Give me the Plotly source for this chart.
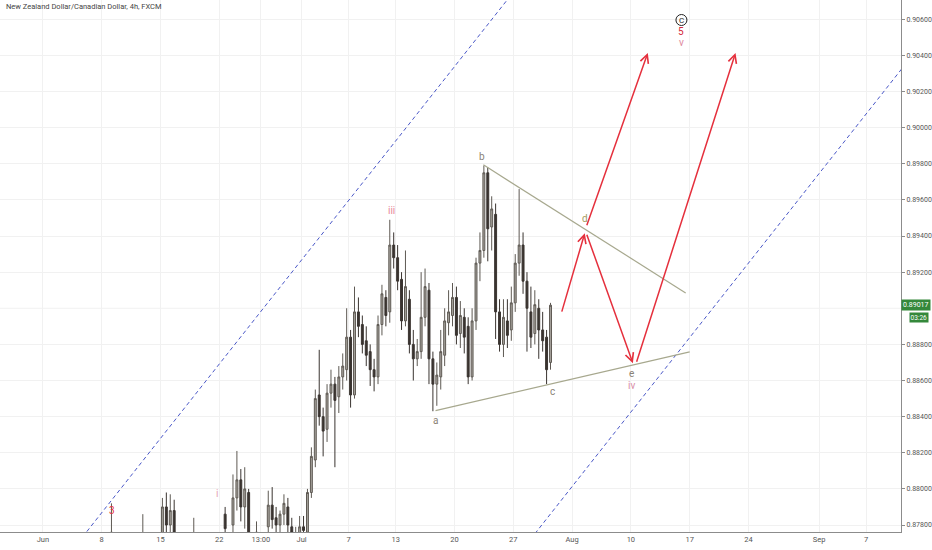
import numpy as np
import plotly.graph_objects as go

# ---------------- data (8h bars) ----------------
bar_time = [
    "2020-06-08 16", "2020-06-11 08",
    "2020-06-15 00", "2020-06-15 08", "2020-06-15 16", "2020-06-16 00",
    "2020-06-17 16",
    "2020-06-22 08", "2020-06-23 00", "2020-06-23 08", "2020-06-23 16",
    "2020-06-24 00", "2020-06-24 08", "2020-06-25 00",
    "2020-06-26 00", "2020-06-26 08", "2020-06-26 16",
    "2020-06-29 00", "2020-06-29 08", "2020-06-29 16",
    "2020-06-30 00", "2020-06-30 08", "2020-06-30 16",
    "2020-07-01 00", "2020-07-01 08", "2020-07-01 16",
    "2020-07-02 00", "2020-07-02 08", "2020-07-02 16",
    "2020-07-03 00", "2020-07-03 08", "2020-07-03 16",
    "2020-07-06 00", "2020-07-06 08", "2020-07-06 16",
    "2020-07-07 00", "2020-07-07 08", "2020-07-07 16",
    "2020-07-08 00", "2020-07-08 08", "2020-07-08 16",
    "2020-07-09 00", "2020-07-09 08", "2020-07-09 16",
    "2020-07-10 00", "2020-07-10 08", "2020-07-10 16",
    "2020-07-13 00", "2020-07-13 08", "2020-07-13 16",
    "2020-07-14 00", "2020-07-14 08", "2020-07-14 16",
    "2020-07-15 00", "2020-07-15 08", "2020-07-15 16",
    "2020-07-16 00", "2020-07-16 08", "2020-07-16 16",
    "2020-07-17 00", "2020-07-17 08", "2020-07-17 16",
    "2020-07-20 00", "2020-07-20 08", "2020-07-20 16",
    "2020-07-21 00", "2020-07-21 08", "2020-07-21 16",
    "2020-07-22 00", "2020-07-22 08", "2020-07-22 16",
    "2020-07-23 00", "2020-07-23 08", "2020-07-23 16",
    "2020-07-24 00", "2020-07-24 08", "2020-07-24 16",
    "2020-07-27 00", "2020-07-27 08", "2020-07-27 16",
    "2020-07-28 00", "2020-07-28 08", "2020-07-28 16",
    "2020-07-29 00", "2020-07-29 08", "2020-07-29 16",
    "2020-07-30 00",
]
opens = [
    0.8772, 0.8770,
    0.8770, 0.8790, 0.8780, 0.8788,
    0.8772,
    0.8786, 0.8780, 0.8795, 0.8805,
    0.8790, 0.8798, 0.8770,
    0.8779, 0.8791, 0.8784,
    0.8780, 0.8786, 0.8790,
    0.8779, 0.8772, 0.8774,
    0.8779, 0.8776, 0.8798,
    0.8816, 0.8852, 0.8840,
    0.8833, 0.8853, 0.8858,
    0.8851, 0.8862, 0.8866,
    0.8884, 0.8852, 0.8898,
    0.8891, 0.8882, 0.8876,
    0.8866, 0.8862, 0.8891,
    0.8906, 0.8898, 0.8935,
    0.8928, 0.8916, 0.8893,
    0.8905, 0.8880, 0.8872,
    0.8876, 0.8895, 0.8910,
    0.8872, 0.8858, 0.8862,
    0.8874, 0.8892, 0.8896,
    0.8906, 0.8886, 0.8895,
    0.8890, 0.8862, 0.8893,
    0.8925, 0.8932, 0.8975,
    0.8945, 0.8952, 0.8898,
    0.8880, 0.8893, 0.8888,
    0.8903, 0.8925, 0.8935,
    0.8915, 0.8898, 0.8886,
    0.8900, 0.8888, 0.8884,
    0.8870,
]
highs = [
    0.8792, 0.8786,
    0.8795, 0.8798, 0.8797, 0.8794,
    0.8784,
    0.8790, 0.8808, 0.8821, 0.8811,
    0.8812, 0.8800, 0.8782,
    0.8799, 0.8801, 0.8790,
    0.8788, 0.8797, 0.8795,
    0.8784, 0.8779, 0.8785,
    0.8785, 0.8800, 0.8823,
    0.8855, 0.8877, 0.8845,
    0.8858, 0.8866, 0.8862,
    0.8868, 0.8875, 0.8900,
    0.8888, 0.8912, 0.8906,
    0.8896, 0.8890, 0.8880,
    0.8872, 0.8896, 0.8913,
    0.8910, 0.8949, 0.8942,
    0.8935, 0.8920, 0.8932,
    0.8910, 0.8888, 0.8883,
    0.8920, 0.8922, 0.8914,
    0.8876, 0.8870, 0.8888,
    0.8900, 0.8910, 0.8914,
    0.8912, 0.8904, 0.8900,
    0.8895, 0.8900, 0.8928,
    0.8942, 0.8979, 0.8978,
    0.8962, 0.8958, 0.8905,
    0.8905, 0.8905, 0.8912,
    0.8930, 0.8966, 0.8942,
    0.8920, 0.8912, 0.8910,
    0.8905, 0.8898, 0.8888,
    0.8903,
]
lows = [
    0.8765, 0.8764,
    0.8766, 0.8772, 0.8774, 0.8768,
    0.8765,
    0.8772, 0.8775, 0.8788, 0.8782,
    0.8778, 0.8766, 0.8765,
    0.8774, 0.8778, 0.8774,
    0.8772, 0.8780, 0.8775,
    0.8770, 0.8766, 0.8768,
    0.8771, 0.8772, 0.8795,
    0.8812, 0.8835, 0.8818,
    0.8826, 0.8845, 0.8812,
    0.8842, 0.8855, 0.8860,
    0.8845, 0.8850, 0.8884,
    0.8875, 0.8868, 0.8857,
    0.8854, 0.8858, 0.8885,
    0.8890, 0.8892, 0.8922,
    0.8910, 0.8888, 0.8890,
    0.8875, 0.8860, 0.8868,
    0.8872, 0.8890, 0.8858,
    0.8843, 0.8846, 0.8855,
    0.8868, 0.8885, 0.8890,
    0.8880, 0.8878, 0.8875,
    0.8858, 0.8860, 0.8888,
    0.8915, 0.8928, 0.8926,
    0.8932, 0.8883, 0.8876,
    0.8873, 0.8878, 0.8882,
    0.8898, 0.8918, 0.8908,
    0.8876, 0.8878, 0.8880,
    0.8872, 0.8876, 0.8858,
    0.8866,
]
closes = [
    0.8776, 0.8774,
    0.8790, 0.8780, 0.8788, 0.8776,
    0.8775,
    0.8778, 0.8795, 0.8805, 0.8790,
    0.8800, 0.8772, 0.8776,
    0.8791, 0.8783, 0.8780,
    0.8786, 0.8792, 0.8780,
    0.8776, 0.8775, 0.8779,
    0.8777, 0.8798, 0.8818,
    0.8850, 0.8840, 0.8832,
    0.8853, 0.8858, 0.8849,
    0.8862, 0.8868, 0.8884,
    0.8852, 0.8898, 0.8890,
    0.8880, 0.8874, 0.8866,
    0.8862, 0.8891, 0.8908,
    0.8896, 0.8935, 0.8928,
    0.8915, 0.8893, 0.8912,
    0.8880, 0.8872, 0.8876,
    0.8895, 0.8912, 0.8872,
    0.8858, 0.8863, 0.8876,
    0.8893, 0.8898, 0.8906,
    0.8885, 0.8896, 0.8884,
    0.8862, 0.8893, 0.8925,
    0.8932, 0.8975, 0.8944,
    0.8955, 0.8898, 0.8880,
    0.8895, 0.8885, 0.8903,
    0.8925, 0.8935, 0.8915,
    0.8900, 0.8884, 0.8902,
    0.8888, 0.8882, 0.8866,
    0.89017,
]
last_price = "0.89017"
countdown = "03:26"

# price-axis labels shown (0.89000 is hidden behind the last-price tag, as in the original)
price_ticks = [0.878, 0.880, 0.882, 0.884, 0.886, 0.888,
               0.892, 0.894, 0.896, 0.898, 0.900, 0.902, 0.904, 0.906]
grid_prices = [0.890]

tick_time = ["2020-06-01", "2020-06-08", "2020-06-15", "2020-06-22", "2020-06-25 13",
             "2020-07-01", "2020-07-07", "2020-07-13", "2020-07-20", "2020-07-27",
             "2020-08-03", "2020-08-10", "2020-08-17", "2020-08-24", "2020-09-01", "2020-09-07"]
tick_text = ["Jun", "8", "15", "22", "13:00", "Jul", "7", "13", "20", "27",
             "Aug", "10", "17", "24", "Sep", "7"]

# drawings (x in trading days since 2020-06-01, y in price)
channel_upper = [(3.0, 0.87703), (41.0, 0.90832)]
channel_lower = [(40.0, 0.87600), (75.0, 0.90488)]
tri_upper = [(37.46, 0.89794), (54.66, 0.89085)]
tri_lower = [(33.39, 0.88433), (55.0, 0.88759)]
arrows = [  # (tail, tip)
    ((44.09, 0.88973), (46.08, 0.89416)),
    ((46.21, 0.89416), (50.17, 0.88696)),
    ((50.45, 0.88696), (58.90, 0.90414)),
    ((46.21, 0.89452), (51.44, 0.90414)),
]
wave_labels = [  # (text, x, y, colour)
    ("b", 37.37, 0.89838, "#8a8276"),
    ("a", 33.39, 0.88377, "#8a8276"),
    ("c", 43.31, 0.88538, "#8a8276"),
    ("d", 46.10, 0.89495, "#a39a5e"),
    ("e", 50.08, 0.88637, "#8a8276"),
    ("iv", 50.08, 0.88571, "#d98ea6"),
    ("iii", 29.66, 0.89539, "#e8899a"),
    ("i", 14.83, 0.87973, "#e4a4b4"),
    ("3", 5.85, 0.87879, "#e5303d"),
    ("5", 54.30, 0.90530, "#d42a3a"),
    ("v", 54.30, 0.90469, "#e08aa0"),
]
circle_label = ("C", 54.30, 0.90596)

# ---------------- helpers ----------------
def tday(s):
    date, _, hh = s.partition(" ")
    return float(np.busday_count("2020-06-01", date)) + (int(hh) if hh else 0) / 24.0

bar_x = [tday(t) + 4 / 24.0 for t in bar_time]
tick_x = [tday(t) for t in tick_time]

FONT = "Roboto, Noto Sans, sans-serif"
RED = "#e5303d"
GRID = "#f1f1f1"

fig = go.Figure()
fig.add_trace(go.Candlestick(
    x=bar_x, open=opens, high=highs, low=lows, close=closes,
    increasing=dict(fillcolor="#a8a49e", line=dict(color="#5e5953", width=1)),
    decreasing=dict(fillcolor="#3a3430", line=dict(color="#3a3430", width=1)),
    whiskerwidth=0, showlegend=False, hoverinfo="skip",
))

shapes = []
for gp in grid_prices:
    shapes.append(dict(type="line", xref="paper", yref="y", x0=0, x1=1, y0=gp, y1=gp,
                       line=dict(color=GRID, width=1), layer="below"))
for pts, dash, col, w in [(channel_upper, "4px,3px", "#4a58c8", 1),
                          (channel_lower, "4px,3px", "#4a58c8", 1),
                          (tri_upper, "solid", "#a7a88e", 1.2),
                          (tri_lower, "solid", "#a7a88e", 1.2)]:
    (x0, y0), (x1, y1) = pts
    shapes.append(dict(type="line", xref="x", yref="y", x0=x0, y0=y0, x1=x1, y1=y1,
                       line=dict(color=col, width=w, dash=dash), layer="above"))
shapes.append(dict(type="circle", xref="x", yref="y", xsizemode="pixel", ysizemode="pixel",
                   xanchor=circle_label[1], yanchor=circle_label[2],
                   x0=-5.5, x1=5.5, y0=-5.5, y1=5.5, line=dict(color="#222222", width=1)))

ann = []
for (tx, ty), (hx, hy) in arrows:
    ann.append(dict(x=hx, y=hy, ax=tx, ay=ty, xref="x", yref="y", axref="x", ayref="y",
                    showarrow=True, arrowhead=5, arrowsize=1.1, arrowwidth=1.5,
                    arrowcolor=RED, standoff=0, text=""))
for txt, x, y, col in wave_labels:
    ann.append(dict(x=x, y=y, xref="x", yref="y", text=txt, showarrow=False,
                    font=dict(family=FONT, size=10, color=col)))
ann.append(dict(x=circle_label[1], y=circle_label[2], xref="x", yref="y", text=circle_label[0],
                showarrow=False, font=dict(family=FONT, size=8, color="#222222")))
ann.append(dict(x=0.004, y=0.99, xref="paper", yref="paper", xanchor="left", yanchor="middle",
                yshift=-1, text="New Zealand Dollar/Canadian Dollar, 4h, FXCM", showarrow=False,
                font=dict(family=FONT, size=7.5, color="#444444")))
ann.append(dict(x=1.0, y=0.89017, xref="paper", yref="y", xanchor="left", yanchor="middle",
                text=last_price, showarrow=False, bgcolor="#34883b", borderpad=1,
                font=dict(family=FONT, size=7, color="white")))
ann.append(dict(x=1.0, y=0.89017, xref="paper", yref="y", xanchor="left", yanchor="middle",
                text=countdown, showarrow=False, bgcolor="#34883b", borderpad=0.5, xshift=8, yshift=-12.5,
                font=dict(family=FONT, size=6.5, color="white")))

fig.update_layout(
    width=932, height=550, margin=dict(l=0, r=28, t=0, b=18),
    paper_bgcolor="white", plot_bgcolor="white",
    shapes=shapes, annotations=ann, showlegend=False,
    xaxis=dict(range=[-3.644, 72.97], tickvals=tick_x, ticktext=tick_text,
               showgrid=True, gridcolor=GRID, gridwidth=1, zeroline=False,
               showline=True, linecolor="#8c8c8c", linewidth=1, ticks="",
               tickfont=dict(family=FONT, size=7.5, color="#555555"),
               rangeslider=dict(visible=False), fixedrange=True),
    yaxis=dict(side="right", range=[0.877613, 0.907068], tickmode="array", tickvals=price_ticks,
               tickformat=".5f", showgrid=True, gridcolor=GRID, gridwidth=1,
               zeroline=False, showline=True, linecolor="#8c8c8c", linewidth=1,
               ticks="outside", ticklen=3, tickcolor="#8c8c8c",
               tickfont=dict(family=FONT, size=7, color="#555555"), fixedrange=True),
)

fig.write_html("out.html", config={"displayModeBar": False},
               post_script="document.body.style.margin='0';document.body.style.overflow='hidden';")
